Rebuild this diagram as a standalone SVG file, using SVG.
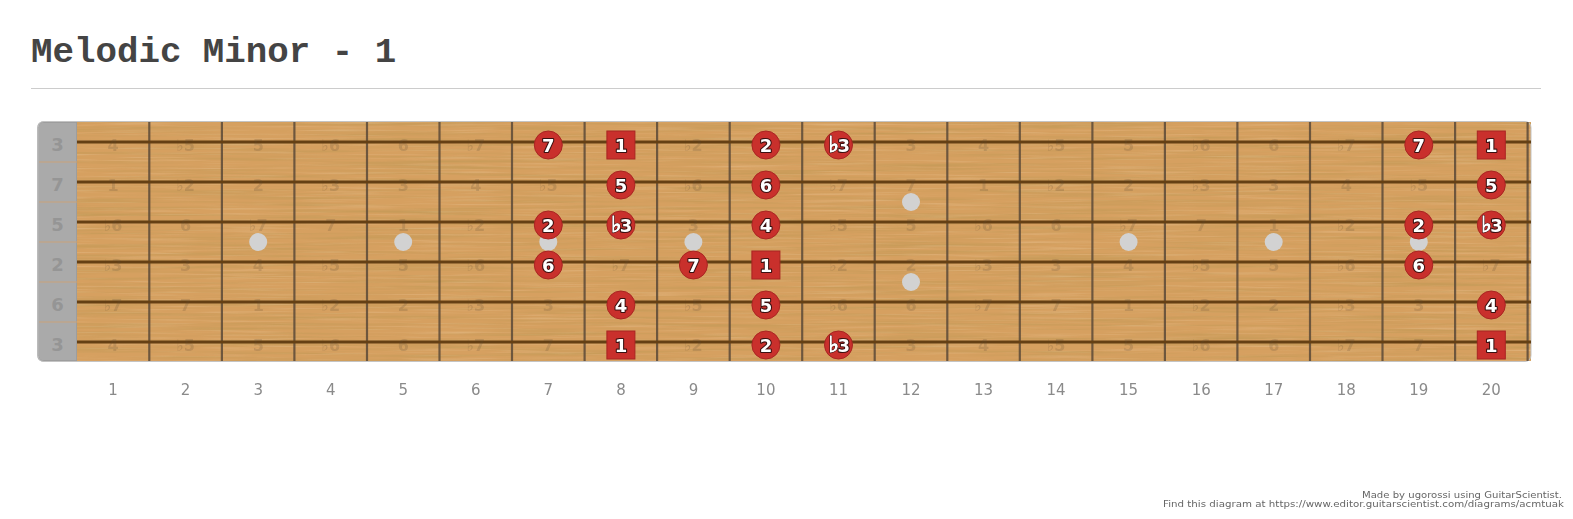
<svg xmlns="http://www.w3.org/2000/svg" width="1573" height="519" viewBox="0 0 1573 519">
<style>
.ghost{font-family:"DejaVu Sans",Verdana,sans-serif;font-weight:bold;font-size:16px;fill:#5e4a36;opacity:0.2;text-anchor:middle}
.tun{font-family:"DejaVu Sans",Verdana,sans-serif;font-weight:bold;font-size:18px;fill:#959595;text-anchor:middle}
.fn{font-family:"DejaVu Sans",Verdana,sans-serif;font-size:15px;fill:#8a8a8a;text-anchor:middle}
.mk{fill:#c9302c;stroke:#a82522;stroke-width:1}
.ml{font-family:"DejaVu Sans",Verdana,sans-serif;font-weight:bold;font-size:18px;fill:#fff;stroke:#3a1010;stroke-width:2.2;paint-order:stroke;stroke-linejoin:round;text-anchor:middle}
.mb{font-family:"DejaVu Sans",Verdana,sans-serif;font-weight:bold;font-size:18px;fill:#fff;stroke:#fff;stroke-width:1;text-anchor:middle}
.fl{font-size:22px}
.hid{visibility:hidden}
.fret{stroke:#5c4a38;stroke-width:2.2;opacity:0.85}
.str{stroke:#654014;stroke-width:3.2}
.dot{fill:#d2d2d2}
.cred{font-family:"DejaVu Sans",Verdana,sans-serif;font-size:9px;fill:#666;text-anchor:end}
</style>
<defs>
<filter id="grain" x="0" y="0" width="1" height="1">
<feTurbulence type="fractalNoise" baseFrequency="0.006 0.3" numOctaves="4" seed="7" result="n"/>
<feColorMatrix in="n" type="matrix" values="0 0 0 0 0.58  0 0 0 0 0.33  0 0 0 0 0.1  2.4 0 0 0 -1.0"/>
</filter>
<filter id="grain2" x="0" y="0" width="1" height="1">
<feTurbulence type="fractalNoise" baseFrequency="0.01 0.5" numOctaves="3" seed="21" result="n"/>
<feColorMatrix in="n" type="matrix" values="0 0 0 0 0.92  0 0 0 0 0.72  0 0 0 0 0.48  2.0 0 0 0 -1.0"/>
</filter>
</defs>
<rect width="1573" height="519" fill="#fff"/>
<text x="31" y="62" font-family="Liberation Mono, Courier New, monospace" font-weight="bold" font-size="35.8" fill="#444">Melodic Minor - 1</text>
<line x1="31" y1="88.5" x2="1541" y2="88.5" stroke="#ccc" stroke-width="1"/>

<g id="board">
<path d="M44,122 H77 V361 H44 Q38,361 38,355 V128 Q38,122 44,122 Z" fill="#aaaaaa" stroke="#999" stroke-width="1.5"/>
<g stroke="#c9a27a" stroke-width="1">
<line x1="39" y1="162" x2="77" y2="162"/><line x1="39" y1="202" x2="77" y2="202"/><line x1="39" y1="242" x2="77" y2="242"/><line x1="39" y1="282" x2="77" y2="282"/><line x1="39" y1="322" x2="77" y2="322"/>
</g>
<rect x="77" y="122" width="1454" height="239" fill="#d6a060"/>
<rect x="77" y="122" width="1454" height="239" filter="url(#grain)"/>
<rect x="77" y="122" width="1454" height="239" filter="url(#grain2)" opacity="0.3"/>
<rect x="38" y="121.5" width="1493" height="240" rx="6" fill="none" stroke="#c4c4c4" stroke-width="1"/>
<g class="tun">
<text x="57.5" y="151">3</text><text x="57.5" y="191">7</text><text x="57.5" y="231">5</text><text x="57.5" y="271">2</text><text x="57.5" y="311">6</text><text x="57.5" y="351">3</text>
</g>
<g class="dots">
<circle class="dot" cx="258.2" cy="242" r="9"/><circle class="dot" cx="403.2" cy="242" r="9"/><circle class="dot" cx="548.3" cy="242" r="9"/><circle class="dot" cx="693.4" cy="242" r="9"/>
<circle class="dot" cx="911" cy="202" r="9"/><circle class="dot" cx="911" cy="282" r="9"/>
<circle class="dot" cx="1128.6" cy="242" r="9"/><circle class="dot" cx="1273.7" cy="242" r="9"/><circle class="dot" cx="1418.8" cy="242" r="9"/>
</g>
<g id="frets">
<line class="fret" x1="149.3" y1="122" x2="149.3" y2="361"/><line class="fret" x1="221.9" y1="122" x2="221.9" y2="361"/><line class="fret" x1="294.4" y1="122" x2="294.4" y2="361"/><line class="fret" x1="367" y1="122" x2="367" y2="361"/><line class="fret" x1="439.5" y1="122" x2="439.5" y2="361"/><line class="fret" x1="512" y1="122" x2="512" y2="361"/><line class="fret" x1="584.6" y1="122" x2="584.6" y2="361"/><line class="fret" x1="657.1" y1="122" x2="657.1" y2="361"/><line class="fret" x1="729.7" y1="122" x2="729.7" y2="361"/><line class="fret" x1="802.2" y1="122" x2="802.2" y2="361"/><line class="fret" x1="874.7" y1="122" x2="874.7" y2="361"/><line class="fret" x1="947.3" y1="122" x2="947.3" y2="361"/><line class="fret" x1="1019.8" y1="122" x2="1019.8" y2="361"/><line class="fret" x1="1092.4" y1="122" x2="1092.4" y2="361"/><line class="fret" x1="1164.9" y1="122" x2="1164.9" y2="361"/><line class="fret" x1="1237.4" y1="122" x2="1237.4" y2="361"/><line class="fret" x1="1310" y1="122" x2="1310" y2="361"/><line class="fret" x1="1382.5" y1="122" x2="1382.5" y2="361"/><line class="fret" x1="1455.1" y1="122" x2="1455.1" y2="361"/><line class="fret" x1="1527.6" y1="122" x2="1527.6" y2="361"/>
</g>
<g id="strings">
<line class="str" x1="77" y1="142" x2="1531" y2="142"/><line class="str" x1="77" y1="182" x2="1531" y2="182"/><line class="str" x1="77" y1="222" x2="1531" y2="222"/><line class="str" x1="77" y1="262" x2="1531" y2="262"/><line class="str" x1="77" y1="302" x2="1531" y2="302"/><line class="str" x1="77" y1="342" x2="1531" y2="342"/>
</g>
<g class="ghost">
<g transform="translate(0,151)">
<text x="113.1">4</text><text x="185.6">♭5</text><text x="258.2">5</text><text x="330.7">♭6</text><text x="403.2">6</text><text x="475.8">♭7</text><text x="693.4">♭2</text><text x="911">3</text><text x="983.6">4</text><text x="1056.1">♭5</text><text x="1128.6">5</text><text x="1201.2">♭6</text><text x="1273.7">6</text><text x="1346.3">♭7</text>
</g>
<g transform="translate(0,191)">
<text x="113.1">1</text><text x="185.6">♭2</text><text x="258.2">2</text><text x="330.7">♭3</text><text x="403.2">3</text><text x="475.8">4</text><text x="548.3">♭5</text><text x="693.4">♭6</text><text x="838.5">♭7</text><text x="911">7</text><text x="983.6">1</text><text x="1056.1">♭2</text><text x="1128.6">2</text><text x="1201.2">♭3</text><text x="1273.7">3</text><text x="1346.3">4</text><text x="1418.8">♭5</text>
</g>
<g transform="translate(0,231)">
<text x="113.1">♭6</text><text x="185.6">6</text><text x="258.2">♭7</text><text x="330.7">7</text><text x="403.2">1</text><text x="475.8">♭2</text><text x="693.4">3</text><text x="838.5">♭5</text><text x="911">5</text><text x="983.6">♭6</text><text x="1056.1">6</text><text x="1128.6">♭7</text><text x="1201.2">7</text><text x="1273.7">1</text><text x="1346.3">♭2</text>
</g>
<g transform="translate(0,271)">
<text x="113.1">♭3</text><text x="185.6">3</text><text x="258.2">4</text><text x="330.7">♭5</text><text x="403.2">5</text><text x="475.8">♭6</text><text x="620.9">♭7</text><text x="838.5">♭2</text><text x="911">2</text><text x="983.6">♭3</text><text x="1056.1">3</text><text x="1128.6">4</text><text x="1201.2">♭5</text><text x="1273.7">5</text><text x="1346.3">♭6</text><text x="1491.3">♭7</text>
</g>
<g transform="translate(0,311)">
<text x="113.1">♭7</text><text x="185.6">7</text><text x="258.2">1</text><text x="330.7">♭2</text><text x="403.2">2</text><text x="475.8">♭3</text><text x="548.3">3</text><text x="693.4">♭5</text><text x="838.5">♭6</text><text x="911">6</text><text x="983.6">♭7</text><text x="1056.1">7</text><text x="1128.6">1</text><text x="1201.2">♭2</text><text x="1273.7">2</text><text x="1346.3">♭3</text><text x="1418.8">3</text>
</g>
<g transform="translate(0,351)">
<text x="113.1">4</text><text x="185.6">♭5</text><text x="258.2">5</text><text x="330.7">♭6</text><text x="403.2">6</text><text x="475.8">♭7</text><text x="548.3">7</text><text x="693.4">♭2</text><text x="911">3</text><text x="983.6">4</text><text x="1056.1">♭5</text><text x="1128.6">5</text><text x="1201.2">♭6</text><text x="1273.7">6</text><text x="1346.3">♭7</text><text x="1418.8">7</text>
</g>
</g>
</g>

<g id="connectors"></g>

<g id="notes">
<g id="n1-7"><circle class="mk" cx="548.3" cy="145" r="14"/><text class="ml" x="548.3" y="151.5">7</text></g>
<g id="n1-8"><rect class="mk" x="606.9" y="131" width="28" height="28"/><text class="ml" x="620.9" y="151.5">1</text></g>
<g id="n1-10"><circle class="mk" cx="765.9" cy="145" r="14"/><text class="ml" x="765.9" y="151.5">2</text></g>
<g id="n1-11"><circle class="mk" cx="838.5" cy="145" r="14"/><text class="ml" x="838.5" y="151.5" letter-spacing="-1.5"><tspan class="fl">♭</tspan>3</text><text class="mb" x="838.5" y="151.5" letter-spacing="-1.5"><tspan class="fl">♭</tspan><tspan class="hid">3</tspan></text></g>
<g id="n1-19"><circle class="mk" cx="1418.8" cy="145" r="14"/><text class="ml" x="1418.8" y="151.5">7</text></g>
<g id="n1-20"><rect class="mk" x="1477.3" y="131" width="28" height="28"/><text class="ml" x="1491.3" y="151.5">1</text></g>

<g id="n2-8"><circle class="mk" cx="620.9" cy="185" r="14"/><text class="ml" x="620.9" y="191.5">5</text></g>
<g id="n2-10"><circle class="mk" cx="765.9" cy="185" r="14"/><text class="ml" x="765.9" y="191.5">6</text></g>
<g id="n2-20"><circle class="mk" cx="1491.3" cy="185" r="14"/><text class="ml" x="1491.3" y="191.5">5</text></g>

<g id="n3-7"><circle class="mk" cx="548.3" cy="225" r="14"/><text class="ml" x="548.3" y="231.5">2</text></g>
<g id="n3-8"><circle class="mk" cx="620.9" cy="225" r="14"/><text class="ml" x="620.9" y="231.5" letter-spacing="-1.5"><tspan class="fl">♭</tspan>3</text><text class="mb" x="620.9" y="231.5" letter-spacing="-1.5"><tspan class="fl">♭</tspan><tspan class="hid">3</tspan></text></g>
<g id="n3-10"><circle class="mk" cx="765.9" cy="225" r="14"/><text class="ml" x="765.9" y="231.5">4</text></g>
<g id="n3-19"><circle class="mk" cx="1418.8" cy="225" r="14"/><text class="ml" x="1418.8" y="231.5">2</text></g>
<g id="n3-20"><circle class="mk" cx="1491.3" cy="225" r="14"/><text class="ml" x="1491.3" y="231.5" letter-spacing="-1.5"><tspan class="fl">♭</tspan>3</text><text class="mb" x="1491.3" y="231.5" letter-spacing="-1.5"><tspan class="fl">♭</tspan><tspan class="hid">3</tspan></text></g>

<g id="n4-7"><circle class="mk" cx="548.3" cy="265" r="14"/><text class="ml" x="548.3" y="271.5">6</text></g>
<g id="n4-9"><circle class="mk" cx="693.4" cy="265" r="14"/><text class="ml" x="693.4" y="271.5">7</text></g>
<g id="n4-10"><rect class="mk" x="751.9" y="251" width="28" height="28"/><text class="ml" x="765.9" y="271.5">1</text></g>
<g id="n4-19"><circle class="mk" cx="1418.8" cy="265" r="14"/><text class="ml" x="1418.8" y="271.5">6</text></g>

<g id="n5-8"><circle class="mk" cx="620.9" cy="305" r="14"/><text class="ml" x="620.9" y="311.5">4</text></g>
<g id="n5-10"><circle class="mk" cx="765.9" cy="305" r="14"/><text class="ml" x="765.9" y="311.5">5</text></g>
<g id="n5-20"><circle class="mk" cx="1491.3" cy="305" r="14"/><text class="ml" x="1491.3" y="311.5">4</text></g>

<g id="n6-8"><rect class="mk" x="606.9" y="331" width="28" height="28"/><text class="ml" x="620.9" y="351.5">1</text></g>
<g id="n6-10"><circle class="mk" cx="765.9" cy="345" r="14"/><text class="ml" x="765.9" y="351.5">2</text></g>
<g id="n6-11"><circle class="mk" cx="838.5" cy="345" r="14"/><text class="ml" x="838.5" y="351.5" letter-spacing="-1.5"><tspan class="fl">♭</tspan>3</text><text class="mb" x="838.5" y="351.5" letter-spacing="-1.5"><tspan class="fl">♭</tspan><tspan class="hid">3</tspan></text></g>
<g id="n6-20"><rect class="mk" x="1477.3" y="331" width="28" height="28"/><text class="ml" x="1491.3" y="351.5">1</text></g>
</g>

<g id="fret-numbers" class="fn">
<text x="113.1" y="395">1</text><text x="185.6" y="395">2</text><text x="258.2" y="395">3</text><text x="330.7" y="395">4</text><text x="403.2" y="395">5</text><text x="475.8" y="395">6</text><text x="548.3" y="395">7</text><text x="620.9" y="395">8</text><text x="693.4" y="395">9</text><text x="765.9" y="395">10</text><text x="838.5" y="395">11</text><text x="911" y="395">12</text><text x="983.6" y="395">13</text><text x="1056.1" y="395">14</text><text x="1128.6" y="395">15</text><text x="1201.2" y="395">16</text><text x="1273.7" y="395">17</text><text x="1346.3" y="395">18</text><text x="1418.8" y="395">19</text><text x="1491.3" y="395">20</text>
</g>

<g id="credits" class="cred">
<text x="1562" y="498" textLength="200" lengthAdjust="spacingAndGlyphs">Made by ugorossi using GuitarScientist.</text>
<text x="1564" y="507" textLength="401" lengthAdjust="spacingAndGlyphs">Find this diagram at https://www.editor.guitarscientist.com/diagrams/acmtuak</text>
</g>
</svg>
